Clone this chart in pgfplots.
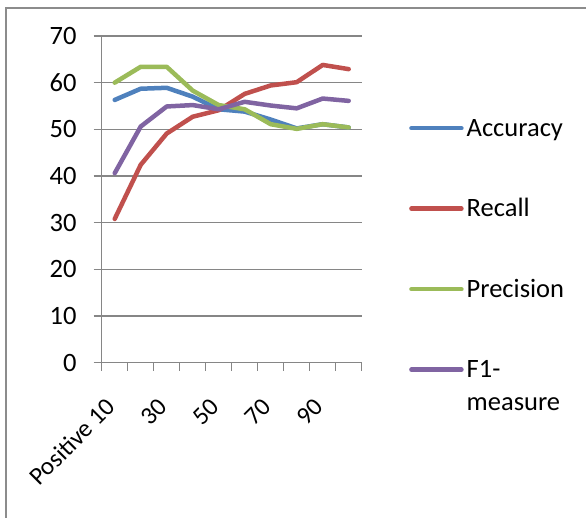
\documentclass[border=0pt]{standalone}
\usepackage{pgfplots}
\pgfplotsset{compat=1.18}
\usepackage{fontspec}
\setmainfont{Carlito}
\definecolor{cA}{HTML}{4F81BD}
\definecolor{cR}{HTML}{C0504D}
\definecolor{cP}{HTML}{9BBB59}
\definecolor{cF}{HTML}{8064A2}
\definecolor{gridgray}{HTML}{868686}
\definecolor{framegray}{HTML}{8C8C8C}
\begin{document}
\begin{tikzpicture}[font=\fontsize{26.5bp}{33bp}\selectfont]
\path[use as bounding box] (0bp,0bp) rectangle (586bp,518bp);
\draw[framegray, line width=2bp] (6bp,0bp) -- (6bp,510bp) -- (586bp,510bp);
\begin{axis}[
  at={(101.7bp,155.3bp)}, anchor=south west,
  scale only axis, width=260bp, height=326.7bp,
  xmin=0.5, xmax=10.5, ymin=0, ymax=70,
  axis lines*=left,
  axis line style={gridgray, line width=1.5bp},
  tick style={gridgray, line width=1.5bp},
  tick align=outside, major tick length=8bp,
  xtick={0.5,1.5,2.5,3.5,4.5,5.5,6.5,7.5,8.5,9.5,10.5},
  xticklabels={},
  ytick={0,10,20,30,40,50,60,70},
  ymajorgrids, grid style={gridgray, line width=1.5bp},
  xticklabel shift=40bp,
  extra x ticks={1,3,5,7,9},
  extra x tick labels={Positive 10,30,50,70,90},
  extra x tick style={major tick length=0pt,
    xticklabel style={font=\fontsize{25bp}{30bp}\selectfont, xshift=-4bp, rotate=45, anchor=east, inner sep=0pt}},
  yticklabel style={inner sep=0pt, xshift=-17bp},
  /pgf/number format/assume math mode=true,
  legend cell align=left,
  legend image code/.code={\draw[#1, line cap=round] (0bp,8bp) -- (50bp,8bp);},
  legend style={draw=none, fill=none, inner sep=0pt, at={(1.1819,0.7490)}, anchor=north west,
    row sep=56.5bp, column sep=3bp,
    cells={anchor=base west},
    nodes={inner sep=0pt, text height=18bp, text depth=6bp}},
]
\addplot[cA, line width=4.5bp, line cap=round, line join=round] coordinates {
(1,56.3) (2,58.7) (3,58.9) (4,57.0) (5,54.3) (6,53.8) (7,52.1) (8,50.2) (9,51.1) (10,50.4)};
\addlegendentry{Accuracy}
\addplot[cR, line width=4.5bp, line cap=round, line join=round] coordinates {
(1,30.8) (2,42.4) (3,49.1) (4,52.7) (5,54.1) (6,57.6) (7,59.4) (8,60.1) (9,63.8) (10,62.9)};
\addlegendentry{Recall}
\addplot[cP, line width=4.5bp, line cap=round, line join=round] coordinates {
(1,60.0) (2,63.4) (3,63.4) (4,58.3) (5,55.2) (6,54.3) (7,51.1) (8,50.1) (9,51.1) (10,50.4)};
\addlegendentry{Precision}
\addplot[cF, line width=4.5bp, line cap=round, line join=round] coordinates {
(1,40.6) (2,50.6) (3,54.9) (4,55.2) (5,54.3) (6,55.9) (7,55.1) (8,54.5) (9,56.6) (10,56.1)};
\addlegendentry{\begin{tabular}[t]{@{}l@{}}F1-\\measure\end{tabular}}
\end{axis}
\end{tikzpicture}
\end{document}
